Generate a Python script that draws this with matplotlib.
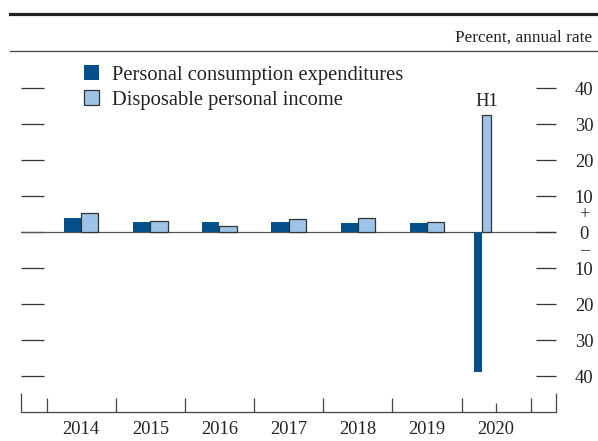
import matplotlib.pyplot as plt
from matplotlib.patches import Patch
from matplotlib.lines import Line2D
from matplotlib import transforms
import numpy as np

# data
years = [2014, 2015, 2016, 2017, 2018, 2019]
year_labels = ['2014', '2015', '2016', '2017', '2018', '2019', '2020']
pce = [4.1, 3.0, 3.0, 3.0, 2.7, 2.7]
dpi = [5.5, 3.1, 1.8, 3.6, 3.9, 2.8]
h1_pce = -38.9
h1_dpi = 32.7
ytick_vals = [-40, -30, -20, -10, 0, 10, 20, 30, 40]
ytick_labels = ['40', '30', '20', '10', '0', '10', '20', '30', '40']

PCE_COL = '#04508a'
DPI_COL = '#9dc3e6'
EDGE = '#333333'
TXT = '#222222'

plt.rcParams['font.family'] = ['Liberation Serif', 'DejaVu Serif']

W, H = 598, 441
fig = plt.figure(figsize=(W / 100, H / 100), dpi=100)
ax = fig.add_axes([21 / W, 1 - 412.3 / H, (556.3 - 21) / W, (412.3 - 52.5) / H])

x = np.array(years, dtype=float)
w = 0.25
ax.bar(x - w / 2, pce, w, color=PCE_COL, edgecolor='none', zorder=3)
ax.bar(x + w / 2, dpi, w, color=DPI_COL, edgecolor=EDGE, linewidth=0.9, zorder=3)
hw = 0.125
ax.bar([2019.8 - hw / 2], [h1_pce], hw, color=PCE_COL, edgecolor='none', zorder=3)
ax.bar([2019.8 + hw / 2], [h1_dpi], hw, color=DPI_COL, edgecolor=EDGE, linewidth=0.9, zorder=3)
ax.text(2019.865, 35.2, 'H1', ha='center', va='baseline', fontsize=13.5, color=TXT)

ax.axhline(0, color='#555555', lw=0.9, zorder=2)

ax.set_xlim(2013.13, 2020.87)
ax.set_ylim(-50, 50)

for s in ['top', 'left', 'right']:
    ax.spines[s].set_visible(False)
ax.spines['bottom'].set_color('#444444')
ax.spines['bottom'].set_linewidth(0.9)

# year labels at centres, boundary ticks as minor ticks
ax.set_xticks(range(2014, 2021))
ax.set_xticklabels(year_labels, fontsize=13.3, color=TXT)
ax.tick_params(axis='x', which='major', length=0, pad=6)
ax.set_xticks(np.arange(2013.5, 2021, 1.0), minor=True)
ax.tick_params(axis='x', which='minor', direction='in', length=10, width=0.9, color='#444444')
tr = transforms.blended_transform_factory(ax.transData, ax.transAxes)
ax.vlines([2020.0], 0, 9 / 360, transform=tr, color='#444444', lw=0.9)
ax.vlines([0, 1], 0, 19 / 360, transform=ax.transAxes, color='#444444', lw=0.9, clip_on=False)

# left ticks, no labels
ax.set_yticks(ytick_vals)
ax.set_yticklabels([])
ax.tick_params(axis='y', direction='in', length=16.5, width=0.9, color='#333333')

# right ticks with labels
ax2 = ax.twinx()
ax2.set_ylim(-50, 50)
for s in ['top', 'left', 'right', 'bottom']:
    ax2.spines[s].set_visible(False)
ax2.set_yticks(ytick_vals)
ax2.set_yticklabels(ytick_labels, fontsize=13.3, color=TXT)
ax2.tick_params(axis='y', direction='in', length=14.4, width=0.9, color='#333333', pad=20)
for lab in ax2.get_yticklabels():
    lab.set_horizontalalignment('center')
trr = transforms.blended_transform_factory(ax.transAxes, ax.transData)
ax.text(1 + 28 / 535.3, 5, '+', transform=trr, ha='center', va='center', fontsize=13, color=TXT)
ax.text(1 + 28 / 535.3, -5.2, '\u2013', transform=trr, ha='center', va='center', fontsize=13, color=TXT)

# legend
handles = [Patch(facecolor=PCE_COL, edgecolor='none'),
           Patch(facecolor=DPI_COL, edgecolor=EDGE, linewidth=0.9)]
ax.legend(handles, ['Personal consumption expenditures', 'Disposable personal income'],
          loc='upper left', bbox_to_anchor=(84 / W, 1 - 65 / H), bbox_transform=fig.transFigure,
          frameon=False, fontsize=14.8, handlelength=0.75, handleheight=0.75,
          handletextpad=0.6, labelspacing=0.25, borderpad=0, borderaxespad=0,
          labelcolor=TXT)

# header rules and unit note
fig.add_artist(Line2D([10 / W, 1], [1 - 14.3 / H] * 2, color='#222222', lw=2.3))
fig.add_artist(Line2D([10 / W, 1], [1 - 51 / H] * 2, color='#444444', lw=0.9))
fig.text(591.7 / W, 1 - 41.7 / H, 'Percent, annual rate', ha='right', va='baseline',
         fontsize=12.4, color=TXT)

fig.savefig('out.png', dpi=100)
